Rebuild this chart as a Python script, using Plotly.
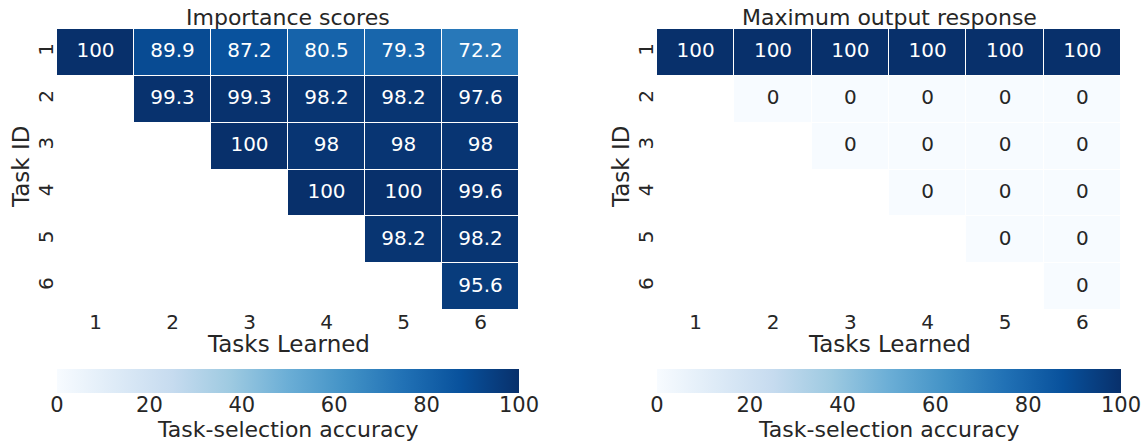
import plotly.graph_objects as go

# Task-selection accuracy (%) per (task ID, number of tasks learned)
tasks_learned = ["1", "2", "3", "4", "5", "6"]
task_ids = ["1", "2", "3", "4", "5", "6"]

importance_scores = [
    [100, 89.9, 87.2, 80.5, 79.3, 72.2],
    [None, 99.3, 99.3, 98.2, 98.2, 97.6],
    [None, None, 100, 98, 98, 98],
    [None, None, None, 100, 100, 99.6],
    [None, None, None, None, 98.2, 98.2],
    [None, None, None, None, None, 95.6],
]

max_output_response = [
    [100, 100, 100, 100, 100, 100],
    [None, 0, 0, 0, 0, 0],
    [None, None, 0, 0, 0, 0],
    [None, None, None, 0, 0, 0],
    [None, None, None, None, 0, 0],
    [None, None, None, None, None, 0],
]

panel_titles = ["Importance scores", "Maximum output response"]
colorbar_ticks = [0, 20, 40, 60, 80, 100]

W, H = 1146, 445
FONT = "DejaVu Sans"
INK = "#262626"

# pixel boxes of the two panels
panels_px = [(57, 519), (657, 1121)]
top_px, bottom_px = 29, 310
cbar_top_px, cbar_bottom_px = 369, 393


def fmt(v):
    return f"{v:g}"


def px_x(p):
    return p / W


def px_y(p):
    return 1 - p / H


fig = go.Figure()

for i, (z, title) in enumerate(zip([importance_scores, max_output_response], panel_titles)):
    xa = "x" if i == 0 else "x2"
    ya = "y" if i == 0 else "y2"
    x0, x1 = panels_px[i]
    fig.add_trace(go.Heatmap(
        z=z, x=tasks_learned, y=task_ids,
        colorscale="Blues", zmin=0, zmax=100,
        xgap=1, ygap=1, hoverongaps=False,
        xaxis=xa, yaxis=ya,
        colorbar=dict(
            orientation="h",
            x=px_x((x0 + x1) / 2), xanchor="center",
            y=px_y(cbar_top_px), yanchor="top",
            len=x1 - x0, lenmode="pixels",
            thickness=cbar_bottom_px - cbar_top_px, thicknessmode="pixels",
            xpad=0, ypad=0,
            outlinewidth=0,
            tickvals=colorbar_ticks,
            ticks="", showticklabels=False,
        ),
    ))
    # cell value labels
    xs, ys, txt, cols = [], [], [], []
    for r, row in enumerate(z):
        for c, v in enumerate(row):
            if v is None:
                continue
            xs.append(tasks_learned[c])
            ys.append(task_ids[r])
            txt.append(fmt(v))
            cols.append("white" if v > 50 else INK)
    fig.add_trace(go.Scatter(
        x=xs, y=ys, text=txt, mode="text",
        textfont=dict(family=FONT, size=20, color=cols),
        xaxis=xa, yaxis=ya, showlegend=False, hoverinfo="skip",
    ))

    # empty trace carrying the colorbar's tick axis
    fig.add_trace(go.Scatter(
        x=[], y=[], mode="markers", showlegend=False, hoverinfo="skip",
        xaxis="x3" if i == 0 else "x4", yaxis="y3" if i == 0 else "y4",
    ))

    cx = px_x((x0 + x1) / 2)
    # panel title
    fig.add_annotation(
        text=title, x=cx, y=px_y(17),
        xref="paper", yref="paper", showarrow=False,
        xanchor="center", yanchor="middle",
        font=dict(family=FONT, size=22, color=INK),
    )
    # x axis title
    fig.add_annotation(
        text="Tasks Learned", x=cx, y=px_y(344),
        xref="paper", yref="paper", showarrow=False,
        xanchor="center", yanchor="middle",
        font=dict(family=FONT, size=23, color=INK),
    )
    # y axis title
    fig.add_annotation(
        text="Task ID", x=px_x(x0 - 36), y=px_y(167),
        xref="paper", yref="paper", showarrow=False, textangle=-90,
        xanchor="center", yanchor="middle",
        font=dict(family=FONT, size=23, color=INK),
    )
    # colorbar title
    fig.add_annotation(
        text="Task-selection accuracy", x=cx, y=px_y(429),
        xref="paper", yref="paper", showarrow=False,
        xanchor="center", yanchor="middle",
        font=dict(family=FONT, size=22, color=INK),
    )

axis_common = dict(showgrid=False, zeroline=False, showline=False, ticks="",
                   automargin=False,
                   tickfont=dict(family=FONT, size=20, color=INK))

for i in range(2):
    x0, x1 = panels_px[i]
    sx = "" if i == 0 else "2"
    cb = "3" if i == 0 else "4"
    fig.update_layout(**{
        f"xaxis{sx}": dict(
            domain=[px_x(x0), px_x(x1)], anchor=f"y{sx}",
            type="category", categoryorder="array", categoryarray=tasks_learned,
            ticklabelstandoff=-2,
            **axis_common,
        ),
        f"yaxis{sx}": dict(
            domain=[px_y(bottom_px), px_y(top_px)], anchor=f"x{sx}",
            type="category", categoryorder="array", categoryarray=task_ids,
            autorange="reversed", tickangle=-90, ticklabelstandoff=-1,
            **axis_common,
        ),
        # tick axis sitting under the colorbar
        f"xaxis{cb}": dict(
            domain=[px_x(x0), px_x(x1)], anchor=f"y{cb}",
            range=[0, 100], tickvals=colorbar_ticks,
            showgrid=False, zeroline=False, showline=False, ticks="",
            automargin=False, ticklabelstandoff=-3, fixedrange=True,
            tickfont=dict(family=FONT, size=21, color=INK),
        ),
        f"yaxis{cb}": dict(
            domain=[px_y(cbar_bottom_px), px_y(cbar_top_px)], anchor=f"x{cb}",
            visible=False, fixedrange=True, automargin=False,
        ),
    })

fig.update_layout(
    width=W, height=H,
    margin=dict(l=0, r=0, t=0, b=0, autoexpand=False),
    paper_bgcolor="white", plot_bgcolor="rgba(0,0,0,0)",
    showlegend=False,
    font=dict(family=FONT, color=INK),
)

fig.write_html("out.html")
